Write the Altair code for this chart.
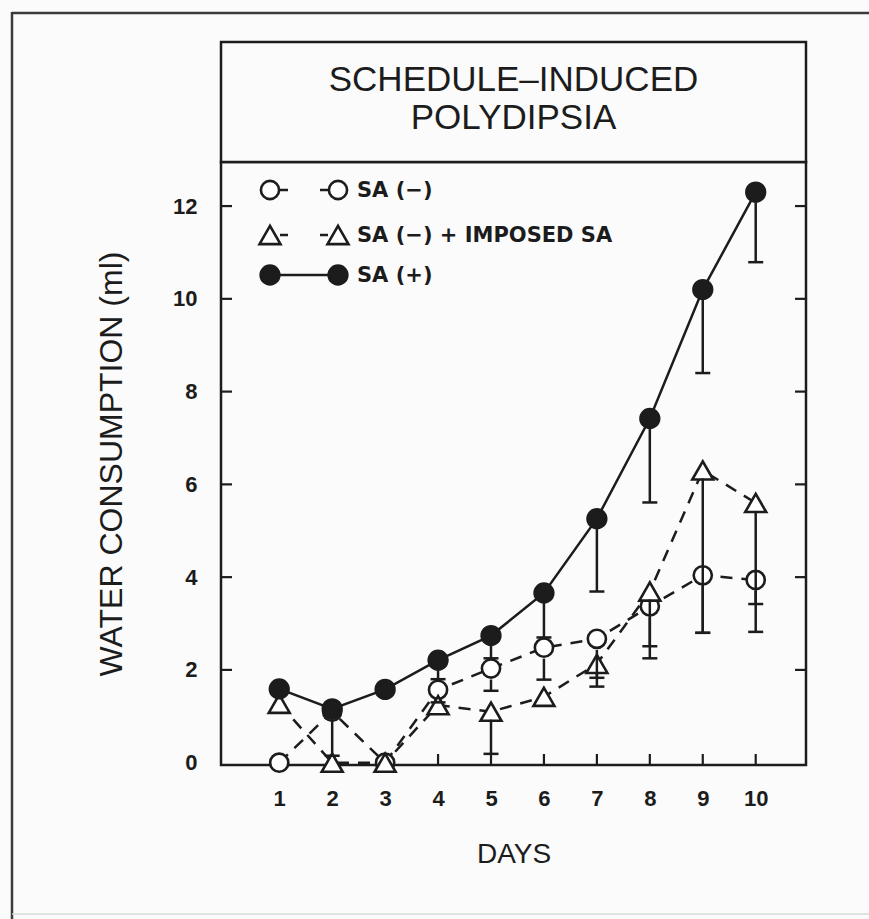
import altair as alt
import pandas as pd

# Mean water consumption (ml) per day and the lower end of each error bar
days = [1, 2, 3, 4, 5, 6, 7, 8, 9, 10]
sa_neg = [0.0, 1.10, 0.0, 1.57, 2.03, 2.48, 2.67, 3.37, 4.04, 3.94]
sa_neg_low = [0.0, 1.10, 0.0, 1.30, 1.55, 1.79, 1.83, 2.51, 2.80, 3.42]
sa_imposed = [1.27, 0.0, 0.0, 1.24, 1.10, 1.42, 2.13, 3.69, 6.30, 5.60]
sa_imposed_low = [1.27, 0.0, 0.0, 1.05, 0.19, 1.18, 1.64, 2.25, 2.80, 2.82]
sa_pos = [1.59, 1.16, 1.58, 2.21, 2.74, 3.66, 5.26, 7.42, 10.20, 12.30]
sa_pos_low = [1.59, 0.15, 1.58, 1.80, 2.25, 2.70, 3.69, 5.61, 8.40, 10.79]

y_ticks = [0, 2, 4, 6, 8, 10, 12]
title_lines = ["SCHEDULE–INDUCED", "POLYDIPSIA"]
legend_labels = ["SA (−)", "SA (−) + IMPOSED SA", "SA (+)"]

INK = "#1c1c1c"
PAPER = "#fbfbfb"
FONT = "Liberation Sans, Arial, Helvetica, sans-serif"
LEGEND_FONT = "DejaVu Sans, Liberation Sans, sans-serif"

W, H = 585, 603
x_scale = alt.Scale(domain=[-0.1, 10.95], nice=False, zero=False)
y_scale = alt.Scale(domain=[-0.05, 12.95], nice=False, zero=False)

X_AXIS = alt.Axis(
    values=days, format="d", ticks=False, domain=False, grid=False,
    labelFont=FONT, labelFontSize=22, labelFontWeight="bold", labelColor=INK,
    labelPadding=23, title="DAYS", titleFont=FONT, titleFontSize=28,
    titleFontWeight="normal", titleColor=INK, titleX=W / 2, titleY=89,
    titleBaseline="middle", titleAlign="center",
)
Y_AXIS = alt.Axis(
    values=y_ticks, format="d", ticks=False, domain=False, grid=False,
    labelFont=FONT, labelFontSize=22, labelFontWeight="bold", labelColor=INK,
    labelPadding=24, title="WATER CONSUMPTION (ml)", titleFont=FONT,
    titleFontSize=32, titleFontWeight="normal", titleColor=INK,
    titleX=-110, titleY=H / 2, titleAngle=270, titleBaseline="middle",
    titleAlign="center",
)

one_row = pd.DataFrame({"row": [0]})


def frame(values, lows):
    return pd.DataFrame({"day": days, "ml": values, "low": lows})


def xq():
    return alt.X("day:Q", scale=x_scale, axis=X_AXIS)


def yq(field="ml"):
    return alt.Y(f"{field}:Q", scale=y_scale, axis=Y_AXIS)


series = [
    # name, frame, shape, filled, dash, size, offset below centre for the bar
    (legend_labels[0], frame(sa_neg, sa_neg_low), "circle", False, [12, 9], 330, 11),
    (legend_labels[1], frame(sa_imposed, sa_imposed_low), "triangle-up", False, [12, 9], 440, 8),
    (legend_labels[2], frame(sa_pos, sa_pos_low), "circle", True, None, 350, 10),
]

layers = []

# outer frame of the figure panel
layers.append(
    alt.Chart(one_row).mark_rule(color="#3a3a3a", strokeWidth=2.5).encode(
        x=alt.value(-209), x2=alt.value(W + 90), y=alt.value(-149)
    )
)
layers.append(
    alt.Chart(one_row).mark_rule(color="#3a3a3a", strokeWidth=2.5).encode(
        x=alt.value(-209), y=alt.value(-150), y2=alt.value(H + 160)
    )
)
layers.append(
    alt.Chart(one_row).mark_rule(color="#d8d8d8", strokeWidth=1.5).encode(
        x=alt.value(-209), x2=alt.value(W + 90), y=alt.value(H + 149)
    )
)

# boxed heading above the plot
layers.append(
    alt.Chart(one_row).mark_rect(fill=PAPER, stroke=INK, strokeWidth=2.5).encode(
        x=alt.value(0), x2=alt.value(W), y=alt.value(-120), y2=alt.value(0)
    )
)
for i, line in enumerate(title_lines):
    layers.append(
        alt.Chart(one_row).mark_text(
            text=line, font=FONT, fontSize=35, color=INK, align="center", baseline="middle"
        ).encode(x=alt.value(W / 2), y=alt.value(-82 + 38 * i))
    )

# inward tick marks on the left, right and bottom edges
tick_df = pd.DataFrame({"ml": y_ticks[1:]})
layers.append(
    alt.Chart(tick_df).mark_rule(color=INK, strokeWidth=2.2).encode(
        y=yq(), x=alt.value(0), x2=alt.value(11)
    )
)
layers.append(
    alt.Chart(tick_df).mark_rule(color=INK, strokeWidth=2.2).encode(
        y=yq(), x=alt.value(W - 11), x2=alt.value(W)
    )
)
layers.append(
    alt.Chart(pd.DataFrame({"day": days})).mark_rule(color=INK, strokeWidth=2.2).encode(
        x=xq(), y=alt.value(H), y2=alt.value(H - 11)
    )
)

# connecting lines
for name, df, shape, filled, dash, size, off in series:
    kw = dict(color=INK, strokeWidth=2.5)
    if dash:
        kw["strokeDash"] = dash
    layers.append(alt.Chart(df).mark_line(**kw).encode(x=xq(), y=yq()))

# markers
for name, df, shape, filled, dash, size, off in series:
    layers.append(
        alt.Chart(df).mark_point(
            shape=shape, filled=True, size=size,
            fill=INK if filled else "white", stroke=INK, strokeWidth=2.6, opacity=1,
        ).encode(x=xq(), y=yq())
    )

# downward error bars with caps
for name, df, shape, filled, dash, size, off in series:
    bars = df[df["ml"] - df["low"] > 0.25]
    layers.append(
        alt.Chart(bars).mark_rule(color=INK, strokeWidth=2.5, yOffset=off).encode(
            x=xq(), y=yq(), y2="low:Q"
        )
    )
    layers.append(
        alt.Chart(bars).mark_tick(
            color=INK, orient="horizontal", size=15, thickness=2.5, opacity=1
        ).encode(x=xq(), y=yq("low"))
    )

# legend drawn inside the plot area
legend_rows = [28, 73, 113]
for (name, df, shape, filled, dash, size, off), ly in zip(series, legend_rows):
    if dash:
        layers.append(
            alt.Chart(one_row).mark_rule(color=INK, strokeWidth=2.5, strokeDash=[8, 32]).encode(
                x=alt.value(59), x2=alt.value(108), y=alt.value(ly)
            )
        )
    else:
        layers.append(
            alt.Chart(one_row).mark_rule(color=INK, strokeWidth=2.5).encode(
                x=alt.value(59), x2=alt.value(108), y=alt.value(ly)
            )
        )
    for mx in (49, 117):
        layers.append(
            alt.Chart(one_row).mark_point(
                shape=shape, filled=True, size=size,
                fill=INK if filled else "white", stroke=INK, strokeWidth=2.6, opacity=1,
            ).encode(x=alt.value(mx), y=alt.value(ly))
        )
    layers.append(
        alt.Chart(one_row).mark_text(
            text=name, font=LEGEND_FONT, fontSize=21, fontWeight="bold", color=INK,
            align="left", baseline="middle",
        ).encode(x=alt.value(136), y=alt.value(ly + 1))
    )

chart = (
    alt.layer(*layers)
    .properties(
        width=W,
        height=H,
        autosize=alt.AutoSizeParams(type="none"),
        padding={"left": 221, "top": 162, "right": 63, "bottom": 154},
        background=PAPER,
    )
    .configure_view(stroke=INK, strokeWidth=2.5)
)

chart.save("out.html", embed_options={"renderer": "svg", "actions": False})
